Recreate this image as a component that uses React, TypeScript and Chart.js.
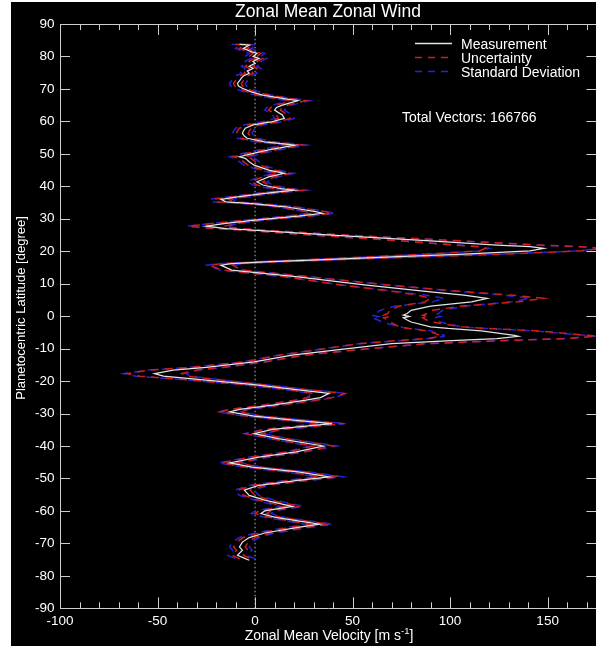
import React, { useEffect, useRef } from "react";
import { Chart, registerables } from "chart.js";

Chart.register(...registerables);

// ---------------- data ----------------
const latitude = [
  83.8, 83.5, 82.5, 81.5, 81.0, 80.0, 79.4, 78.5, 77.9, 77.0,
  76.3, 75.5, 74.8, 74.0, 73.3, 72.5, 71.7, 70.9, 70.2, 69.1,
  68.1, 67.1, 66.4, 65.7, 65.0, 64.3, 63.5, 62.7, 62.0, 60.9,
  59.9, 58.9, 57.9, 57.0, 56.3, 55.5, 54.8, 53.7, 52.7, 51.2,
  50.0, 49.1, 48.6, 47.6, 46.5, 45.0, 44.0, 42.9, 41.4, 40.4,
  39.4, 38.8, 37.8, 36.8, 36.0, 35.2, 34.7, 33.7, 32.2, 31.7,
  30.8, 29.6, 28.6, 27.7, 27.0, 26.5, 25.0, 23.2, 21.9, 21.4,
  20.9, 20.1, 19.1, 18.3, 17.5, 16.7, 16.2, 15.7, 14.2, 12.1,
  9.6, 7.5, 6.5, 5.5, 4.4, 3.1, 1.8, 0.8, 0.3, -0.1,
  -0.5, -1.2, -1.8, -3.3, -3.8, -4.5, -5.9, -6.2, -6.9, -7.6,
  -8.5, -10.3, -12.0, -14.1, -15.8, -16.6, -17.7, -18.5, -19.7, -21.1,
  -22.6, -23.8, -25.1, -25.9, -27.4, -28.7, -29.5, -30.8, -32.1, -33.1,
  -33.9, -34.9, -36.2, -37.7, -40.0, -41.8, -43.4, -45.2, -46.5, -48.0,
  -49.5, -50.6, -52.1, -53.6, -55.2, -56.7, -58.6, -60.0, -60.8, -62.0,
  -63.1, -64.1, -65.1, -66.8, -68.2, -69.6, -71.1, -72.1, -73.7, -74.7,
  -75.2,
];

const measurement = [
  -8, -3, -6, -2, 1, -1, 2, -1, 0, -3,
  -1, -4, -3, -6, -7, -8, -9, -8.5, -6.5, -2,
  4, 14, 22, 18, 14, 11, 10, 12, 14, 15,
  9, -1, -5, -6, -6.5, -5.5, -4, 5, 20.5, 7,
  -2, -8, -5, -3, -0.5, 7, 15, 7, 1, 4,
  12, 20, 5, -8, -17.5, -15, -1.5, 15.5, 31, 34.5,
  22, 0, -15, -25, -15, -1, 37, 90, 124, 141,
  148, 141, 107, 73, 39, 5, -12, -17.5, -12, 22,
  56, 90, 107, 119, 111, 90, 80, 78, 76, 79,
  76, 78, 80, 90, 99, 116, 133, 135, 124, 98,
  70, 43, 19, -0.5, -25, -42, -51.5, -47, -25, -0.5,
  21, 38, 33.5, 26, 9, -8, -13, -0.5, 21, 39.5,
  26, 9, -0.5, 12, 35, 21, 2, -13, -1.5, 22,
  38, 22, 2, -5.5, -3, 5, 19, 5, 3, 10.5,
  22, 33, 22, 5, -3, -6.5, -8, -6.5, -9, -5,
  -3,
];

const uncertainty = [
  2, 2, 2, 2, 2, 2, 2, 2, 2, 2,
  2, 2, 2, 2, 2, 2, 2, 2, 2, 2,
  3, 3, 4, 3, 3, 3, 3, 3, 3, 3,
  3, 3, 3, 3, 3, 3, 3, 3, 4, 3,
  3, 3, 3, 3, 3, 3, 3, 3, 3, 3,
  3, 4, 3, 3, 4, 4, 3, 4, 5, 5,
  5, 4, 6, 9, 6, 5, 8, 15, 22, 26,
  30, 26, 20, 14, 9, 5, 5, 6, 5, 6,
  12, 18, 24, 29, 24, 16, 11, 10, 10, 10,
  10, 10, 11, 16, 20, 28, 38, 40, 36, 26,
  17, 10, 6, 5, 8, 12, 14, 12, 8, 5,
  5, 8, 6, 5, 4, 4, 5, 4, 5, 6,
  5, 4, 4, 4, 5, 4, 4, 4, 4, 4,
  5, 4, 3, 3, 3, 3, 4, 3, 3, 3,
  4, 5, 4, 3, 3, 3, 3, 3, 3, 3,
  3,
];

const stdDeviation = [
  4, 4, 4, 4, 4, 4, 4, 4, 4, 4,
  4, 4, 4, 4, 4, 4, 4, 4, 4, 4,
  4, 5, 6, 5, 5, 5, 5, 5, 5, 5,
  5, 5, 5, 5, 5, 5, 5, 5, 6, 5,
  5, 5, 5, 5, 5, 5, 5, 5, 5, 5,
  5, 6, 5, 5, 6, 6, 5, 5, 6, 7,
  6, 5, 7, 10, 7, 6, 9, 15, 20, 25,
  28, 25, 18, 13, 9, 6, 6, 7, 6, 7,
  12, 16, 20, 22, 20, 18, 16, 16, 16, 16,
  16, 15, 15, 16, 20, 26, 36, 38, 34, 25,
  17, 11, 7, 6, 9, 13, 16, 14, 9, 6,
  6, 9, 7, 6, 5, 5, 6, 5, 6, 7,
  6, 5, 5, 5, 7, 5, 5, 6, 5, 6,
  7, 6, 5, 5, 5, 5, 6, 5, 5, 5,
  6, 7, 6, 5, 5, 5, 5, 5, 5, 5,
  5,
];

const xRange = [-100, 175];
const yRange = [-90, 90];
const xTicks = [-100, -50, 0, 50, 100, 150];
const xMinorTicks = [
  -100, -90, -80, -70, -60, -50, -40, -30, -20, -10, 0, 10, 20, 30, 40, 50, 60, 70,
  80, 90, 100, 110, 120, 130, 140, 150, 160, 170,
];
const yTicks = [-90, -80, -70, -60, -50, -40, -30, -20, -10, 0, 10, 20, 30, 40, 50, 60, 70, 80, 90];

const chartTitle = "Zonal Mean Zonal Wind";
const xTitleMain = "Zonal Mean Velocity [m s";
const xTitleSup = "-1";
const xTitleEnd = "]";
const yTitle = "Planetocentric Latitude [degree]";
const legendLabels = ["Measurement", "Uncertainty", "Standard Deviation"];
const totalVectors = 166766;

// ---------------- styles ----------------
const FONT = '"Liberation Sans", Arial, Helvetica, sans-serif';
const WHITE = "#e4e4e4";
const RED = "#d01e1e";
const BLUE = "#2424d6";
const AXIS = "#cfcfcf";
const DASH = [8, 6];

const CW = 600;
const CH = 644;

const idlPlugin = {
  id: "idlDecor",
  afterDraw(chart: any) {
    const { ctx, chartArea: a, scales } = chart;
    const xs = scales.x;
    const ys = scales.y;
    ctx.save();
    // frame
    ctx.strokeStyle = AXIS;
    ctx.lineWidth = 1;
    ctx.beginPath();
    ctx.rect(Math.round(a.left) + 0.5, Math.round(a.top) + 0.5, Math.round(a.right - a.left), Math.round(a.bottom - a.top));
    ctx.stroke();
    // x ticks (top & bottom)
    ctx.beginPath();
    for (const v of xMinorTicks) {
      const px = Math.round(xs.getPixelForValue(v)) + 0.5;
      const len = xTicks.includes(v) ? 11 : 6;
      ctx.moveTo(px, a.bottom);
      ctx.lineTo(px, a.bottom - len);
      ctx.moveTo(px, a.top);
      ctx.lineTo(px, a.top + len);
    }
    // y ticks (left & right)
    for (const v of yTicks) {
      const py = Math.round(ys.getPixelForValue(v)) + 0.5;
      ctx.moveTo(a.left, py);
      ctx.lineTo(a.left + 10, py);
      ctx.moveTo(a.right, py);
      ctx.lineTo(a.right - 10, py);
    }
    ctx.stroke();

    ctx.fillStyle = "#ffffff";
    // title
    ctx.font = `17.5px ${FONT}`;
    ctx.textAlign = "center";
    ctx.textBaseline = "alphabetic";
    ctx.fillText(chartTitle, (a.left + 585) / 2, 15);

    // x title with superscript
    ctx.font = `14px ${FONT}`;
    const w1 = ctx.measureText(xTitleMain).width;
    const w3 = ctx.measureText(xTitleEnd).width;
    ctx.font = `9.5px ${FONT}`;
    const w2 = ctx.measureText(xTitleSup).width;
    const total = w1 + w2 + w3;
    const x0 = 318 - total / 2;
    const base = 637.5;
    ctx.textAlign = "left";
    ctx.font = `14px ${FONT}`;
    ctx.fillText(xTitleMain, x0, base);
    ctx.font = `9.5px ${FONT}`;
    ctx.fillText(xTitleSup, x0 + w1, base - 5.5);
    ctx.font = `14px ${FONT}`;
    ctx.fillText(xTitleEnd, x0 + w1 + w2, base);

    // y title
    ctx.save();
    ctx.translate(13.5, 306);
    ctx.rotate(-Math.PI / 2);
    ctx.textAlign = "center";
    ctx.font = `13px ${FONT}`;
    ctx.fillText(yTitle, 0, 0);
    ctx.restore();

    // legend
    const lx0 = 404;
    const lx1 = 441;
    const rows = [41.5, 55.5, 69.5];
    const bases = [46.5, 60.5, 74.5];
    const colors = [WHITE, RED, BLUE];
    for (let i = 0; i < 3; i++) {
      ctx.beginPath();
      ctx.strokeStyle = colors[i];
      ctx.lineWidth = 1.5;
      ctx.setLineDash(i === 0 ? [] : [7, 6]);
      ctx.moveTo(lx0, rows[i]);
      ctx.lineTo(lx1, rows[i]);
      ctx.stroke();
    }
    ctx.setLineDash([]);
    ctx.font = `14px ${FONT}`;
    ctx.textAlign = "left";
    ctx.fillStyle = "#ffffff";
    for (let i = 0; i < 3; i++) ctx.fillText(legendLabels[i], 450, bases[i]);
    ctx.fillText(`Total Vectors: ${totalVectors}`, 391, 119.5);
    ctx.restore();
  },
};

export default function App() {
  const ref = useRef<HTMLCanvasElement | null>(null);

  useEffect(() => {
    if (!ref.current) return;
    const pts = (sign: number, spread: number[] | null) =>
      latitude.map((lat, i) => ({ x: measurement[i] + (spread ? sign * spread[i] : 0), y: lat }));

    const line = (data: any[], color: string, width: number, dash: number[]) => ({
      data,
      showLine: true,
      borderColor: color,
      backgroundColor: color,
      borderWidth: width,
      borderDash: dash,
      pointRadius: 0,
      pointHoverRadius: 0,
      tension: 0,
      fill: false,
    });

    const chart = new Chart(ref.current, {
      type: "scatter",
      data: {
        datasets: [
          line(pts(0, null), WHITE, 1.25, []),
          line(pts(1, uncertainty), RED, 1.5, DASH),
          line(pts(-1, uncertainty), RED, 1.5, DASH),
          line(pts(1, stdDeviation), BLUE, 1.5, DASH),
          line(pts(-1, stdDeviation), BLUE, 1.5, DASH),
          line(yRange.map((y) => ({ x: 0, y })), "#b8b8b8", 1, [1.5, 2.5]),
        ] as any,
      },
      options: {
        responsive: false,
        maintainAspectRatio: false,
        animation: false,
        events: [],
        layout: { padding: { top: 22, right: CW - 585.4, left: 0, bottom: 0 } },
        plugins: {
          legend: { display: false },
          title: { display: false },
          tooltip: { enabled: false },
        },
        scales: {
          x: {
            type: "linear",
            min: xRange[0],
            max: xRange[1],
            grid: { display: false, drawTicks: false },
            border: { display: false },
            afterBuildTicks: (s: any) => {
              s.ticks = xTicks.map((value) => ({ value }));
            },
            afterFit: (s: any) => {
              s.height = CH - 606.3;
            },
            ticks: {
              color: "#ffffff",
              font: { family: FONT, size: 13.5 },
              padding: 5,
              maxRotation: 0,
              autoSkip: false,
            },
          },
          y: {
            type: "linear",
            min: yRange[0],
            max: yRange[1],
            grid: { display: false, drawTicks: false },
            border: { display: false },
            afterBuildTicks: (s: any) => {
              s.ticks = yTicks.map((value) => ({ value }));
            },
            afterFit: (s: any) => {
              s.width = 49;
            },
            ticks: {
              color: "#ffffff",
              font: { family: FONT, size: 13.5 },
              padding: 5.5,
              autoSkip: false,
            },
          },
        },
      },
      plugins: [idlPlugin],
    } as any);
    return () => chart.destroy();
  }, []);

  return (
    <div
      style={{
        position: "absolute",
        left: 0,
        top: 0,
        width: 596,
        height: 646,
        overflow: "hidden",
        background: "#ffffff",
      }}
    >
      <div style={{ position: "absolute", left: 11, top: 2, width: CW, height: CH, background: "#000000" }}>
        <canvas ref={ref} width={CW} height={CH} style={{ display: "block", width: CW, height: CH }} />
      </div>
    </div>
  );
}
